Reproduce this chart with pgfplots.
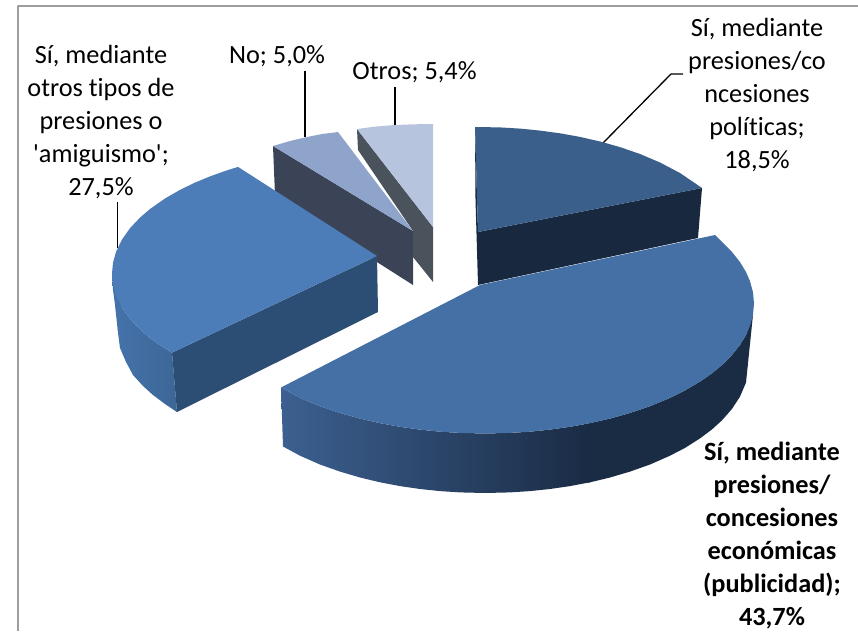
\documentclass[border=0pt]{standalone}
\usepackage{fontspec}
\setmainfont{Carlito}
\newfontfamily\lbl{Carlito}[Ligatures=NoCommon]
\usepackage{pgfplots}
\pgfplotsset{compat=1.18}
\definecolor{topA}{HTML}{3A5F8B}
\definecolor{sideA}{HTML}{18293F}
\definecolor{topB}{HTML}{4570A5}
\definecolor{topC}{HTML}{4D7DB8}
\definecolor{sideC}{HTML}{2C4E74}
\definecolor{lipL}{HTML}{4573AB}
\definecolor{lipR}{HTML}{3C6696}
\definecolor{topD}{HTML}{8FA4CB}
\definecolor{sideD}{HTML}{3B4356}
\definecolor{topE}{HTML}{B7C4DD}
\definecolor{sideE}{HTML}{4A525C}
\definecolor{gradL}{RGB}{60,96,144}
\definecolor{gradR}{RGB}{26,43,68}
\begin{document}
\begin{tikzpicture}
\useasboundingbox (0,0) rectangle (858pt,631pt);
\begin{axis}[
  at={(0,0)}, anchor=south west,
  hide axis, scale only axis, width=858pt, height=631pt,
  xmin=0, xmax=858, ymin=0, ymax=631, y dir=reverse,
  every axis plot/.append style={no markers, line join=round},
]
% frame
\addplot[draw=black!38, line width=1.6pt] coordinates {(18,631) (18,6) (858,6)};
% leaders
\addplot[black, line width=1.3pt] coordinates {(305,71) (305,137)};
\addplot[black, line width=1.3pt] coordinates {(395,87) (395,125)};
\addplot[black, line width=1.3pt] coordinates {(117.7,202) (117.7,248)};
\addplot[black, line width=1.3pt] coordinates {(683,74) (671,74) (603,143)};
% Otros
\addplot[fill=sideE, draw=none] coordinates {(357,129) (433,227) (433,282) (413,257) (413,231) (358,150)} -- cycle;
\addplot[fill=topE, draw=none] coordinates {(357,129) (376,126.5) (395,125) (414,124.3) (433,124) (433,227)} -- cycle;
% No
\addplot[fill=sideD, draw=none] coordinates {(273,146) (413,231) (413,285) (380,264) (275,195)} -- cycle;
\addplot[fill=topD, draw=none] coordinates {(273,146) (290,141) (307,137) (322,134) (338,132) (413,231)} -- cycle;
% Politicas
\addplot[fill=sideA, draw=none] coordinates {(475,127) (478,232) (702,188) (698,238) (478,285) (475.5,200)} -- cycle;
\addplot[fill=topA, draw=none] coordinates {(475,127) (500,127.4) (520,128.6) (540,130.6) (560,133.3) (580,136.9) (600,141.5) (620,147.1) (640,154) (660,162.5) (680,173) (702,188) (478,232)} -- cycle;
% Amiguismo
\addplot[shade, left color=lipL, right color=lipR, draw=none] coordinates {(112,273.5) (113,290) (115,305) (118,333) (120,348) (126,362) (133,375) (143,386) (153,395) (165,404) (177,412) (172,352.7) (160,345.2) (150,338) (140,329.4) (130,318.8) (122,307.5)} -- cycle;
\addplot[fill=sideC, draw=none] coordinates {(172,352.7) (377,256) (378,312) (177,412)} -- cycle;
\addplot[fill=topC, draw=none] coordinates {(238,166.9) (225,171) (210,176.4) (195,182.6) (180,189.9) (165,198.5) (150,209) (140,217.6) (130,228.2) (122,239.5) (116,251.9) (113,262.7) (112,273.5) (113,284.3) (116,295.1) (122,307.5) (130,318.8) (140,329.4) (150,338) (160,345.2) (172,352.7) (377,256)} -- cycle;
% Economicas: side
\addplot[fill=gradR, draw=none] coordinates {(588,423.5) (610,418.6) (630,413) (650,406.2) (670,397.9) (685,390.4) (700,381.6) (712,373.3) (722,365) (732,355) (740,344.9) (746,335) (753,314.7) (746,382.6) (740,396.6) (732,408.9) (722,420.3) (712,429.4) (700,438.4) (685,447.9) (670,455.7) (650,464.5) (630,471.6) (610,477.5) (588,482.8)} -- cycle;
\addplot[shade, left color=gradL, right color=gradR, draw=none] coordinates {(281,387.5) (300,397.9) (320,406.2) (340,413) (360,418.6) (380,423.2) (400,426.8) (420,429.6) (440,431.7) (460,432.9) (485,433.5) (510,432.9) (530,431.7) (550,429.6) (570,426.8) (590,423.2) (590,482.3) (570,486.1) (550,489) (530,491.1) (510,492.4) (485,493) (460,492.4) (440,491.1) (420,489) (400,486.1) (380,482.3) (360,477.5) (340,471.6) (320,464.5) (300,455.7) (283,446.5)} -- cycle;
% Economicas: top
\addplot[fill=topB, draw=none] coordinates {(281,387.5) (480,285) (715,235) (722,242) (732,252) (740,262.1) (746,272) (750,281.2) (753,292.3) (754,303.5) (753,314.7) (750,325.8) (746,335) (740,344.9) (732,355) (722,365) (712,373.3) (700,381.6) (685,390.4) (670,397.9) (650,406.2) (630,413) (610,418.6) (590,423.2) (570,426.8) (550,429.6) (530,431.7) (510,432.9) (485,433.5) (460,432.9) (440,431.7) (420,429.6) (400,426.8) (380,423.2) (360,418.6) (340,413) (320,406.2) (300,397.9)} -- cycle;
% labels
\node[align=center, inner sep=0pt, font=\fontsize{26.3}{33}\selectfont\lbl] at (axis cs:757,95) {Sí, mediante\\presiones/co\\ncesiones\\políticas;\\18,5\%};
\node[align=center, inner sep=0pt, font=\fontsize{26.3}{33}\selectfont\lbl] at (axis cs:101,122) {Sí, mediante\\otros tipos de\\presiones o\\'amiguismo';\\27,5\%};
\node[inner sep=0pt, font=\fontsize{26.3}{33}\selectfont\lbl] at (axis cs:277,56) {No; 5,0\%};
\node[inner sep=0pt, font=\fontsize{26.3}{33}\selectfont\lbl] at (axis cs:414.5,72) {Otros; 5,4\%};
\node[align=center, inner sep=0pt, font=\fontsize{26.3}{33}\selectfont\lbl\bfseries] at (axis cs:772,536) {Sí, mediante\\presiones/\\concesiones\\económicas\\(publicidad);\\43,7\%};
\end{axis}
\end{tikzpicture}
\end{document}
